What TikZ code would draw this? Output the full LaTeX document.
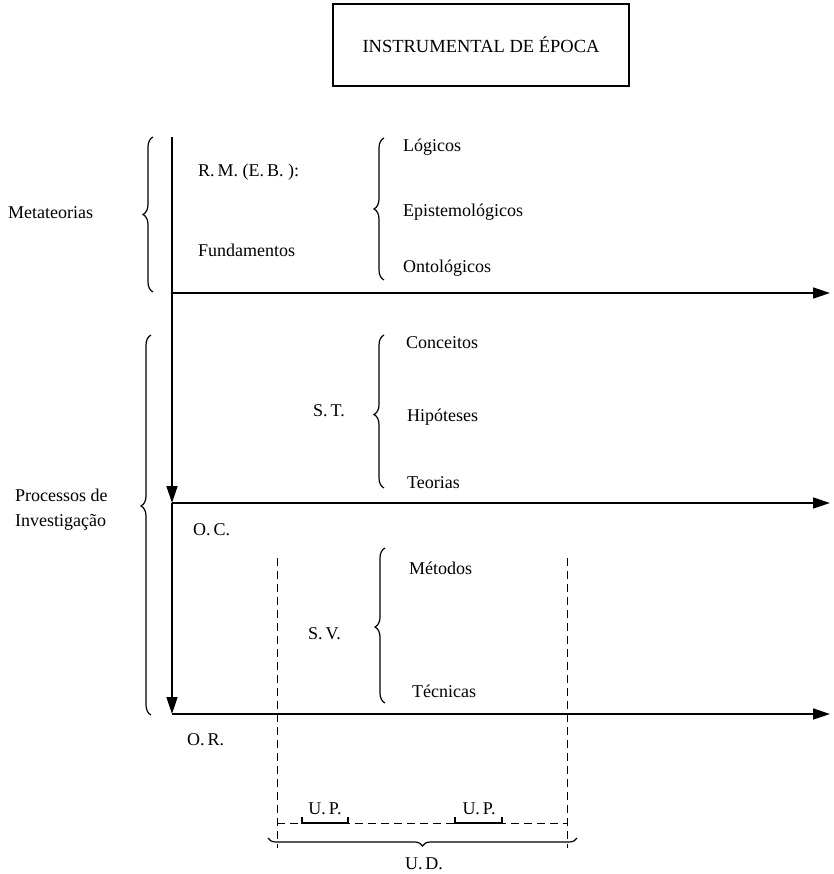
\documentclass[tikz,border=0pt]{standalone}
\usepackage{fontspec}
\setmainfont{Liberation Serif}
\usetikzlibrary{arrows.meta,decorations.pathreplacing}
\begin{document}
\begin{tikzpicture}[x=1pt,y=-1pt,
  lbl/.style={inner sep=0pt,anchor=west,font=\fontsize{18}{20}\selectfont},
  clbl/.style={inner sep=0pt,anchor=center,font=\fontsize{18}{20}\selectfont},
  axis/.style={line width=1.4pt,-{Triangle[length=17pt,width=11pt]}},
  brc/.style={line width=1.2pt,decorate,decoration={brace,amplitude=10pt}},
  dsh/.style={line width=1pt,dash pattern=on 8pt off 5pt}]
\useasboundingbox (0,0) rectangle (833,874);
% title
\node[draw,line width=1.2pt,minimum width=296pt,minimum height=82pt,inner sep=0pt,
  font=\fontsize{18.5}{20}\selectfont] (title) at (481,45) {INSTRUMENTAL DE ÉPOCA};
% main axis coordinates
\coordinate (top) at (172,137);
\coordinate (mt) at (172,293);
\coordinate (oc) at (172,503);
\coordinate (or) at (172,714);
\coordinate (mtE) at (830,293);
\coordinate (ocE) at (830,503);
\coordinate (orE) at (830,714);
\draw[line width=1.4pt] (top) -- (mt);
\draw[axis] (mt) -- (oc);
\draw[axis] (oc) -- (or);
\draw[axis] (mt) -- (mtE);
\draw[axis] (oc) -- (ocE);
\draw[axis] (or) -- (orE);
% left braces
\coordinate (b1a) at (153,292);
\coordinate (b1b) at (153,137);
\draw[brc] (b1a) -- (b1b);
\node[lbl] (meta) at (8,213) {Metateorias};
\coordinate (b2a) at (151,715);
\coordinate (b2b) at (151,335);
\draw[brc,decoration={brace,amplitude=10pt,aspect=0.55}] (b2a) -- (b2b);
\node[lbl] (proc1) at (15,495) {Processos de};
\node[lbl] (proc2) at (15,522) {Investigação};
% first group
\node[lbl] (rm) at (198,172) {R.\,M. (E.\,B. ):};
\node[lbl] (fund) at (198,250) {Fundamentos};
\coordinate (b3a) at (384,280);
\coordinate (b3b) at (384,138);
\draw[brc] (b3a) -- (b3b);
\node[lbl] (log) at (403,147) {Lógicos};
\node[lbl] (epi) at (403,212) {Epistemológicos};
\node[lbl] (ont) at (403,268) {Ontológicos};
% second group
\node[lbl] (st) at (313,411) {S.\,T.};
\coordinate (b4a) at (384,488);
\coordinate (b4b) at (384,335);
\draw[brc,decoration={brace,amplitude=10pt,aspect=0.48}] (b4a) -- (b4b);
\node[lbl] (conc) at (406,343) {Conceitos};
\node[lbl] (hip) at (407,417) {Hipóteses};
\node[lbl] (teo) at (407,483) {Teorias};
\node[lbl] (ocl) at (193,530) {O.\,C.};
% third group
\node[lbl] (sv) at (308,634) {S.\,V.};
\coordinate (b5a) at (385,703);
\coordinate (b5b) at (385,548);
\draw[brc,decoration={brace,amplitude=10pt,aspect=0.49}] (b5a) -- (b5b);
\node[lbl] (met) at (409,568) {Métodos};
\node[lbl] (tec) at (412,691) {Técnicas};
\node[lbl] (orl) at (187,740) {O.\,R.};
% dashed frame
\coordinate (d1t) at (277,558);
\coordinate (d1b) at (277,848);
\coordinate (d2t) at (567,558);
\coordinate (d2b) at (567,848);
\coordinate (h1) at (277,823);
\coordinate (h2) at (567,823);
\draw[dsh] (d1t) -- (d1b);
\draw[dsh] (d2t) -- (d2b);
\draw[dsh] (h1) -- (h2);
% U.P. brackets
\coordinate (p1a) at (302,817);
\coordinate (p1b) at (348,817);
\coordinate (p2a) at (455,817);
\coordinate (p2b) at (502,817);
\draw[line width=1.1pt] (p1a) -- ++(0,6) -| (p1b);
\draw[line width=1.1pt] (p2a) -- ++(0,6) -| (p2b);
\node[clbl] (up1) at (325,809) {U.\,P.};
\node[clbl] (up2) at (479,809) {U.\,P.};
% U.D. brace
\coordinate (uda) at (577,838);
\coordinate (udb) at (268,838);
\draw[brc,decoration={brace,amplitude=8pt,aspect=0.50}] (uda) -- (udb);
\node[clbl] (ud) at (424,864) {U.\,D.};
\end{tikzpicture}
\end{document}
